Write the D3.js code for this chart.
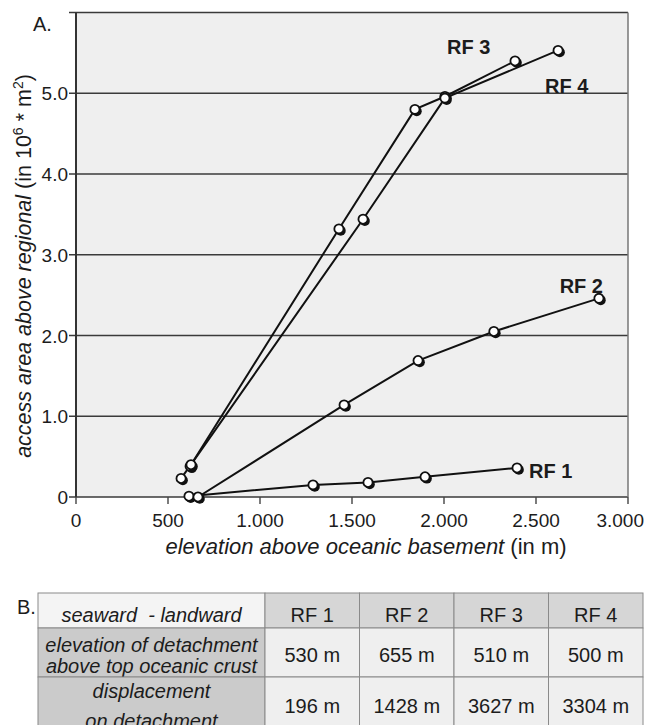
<!DOCTYPE html>
<html>
<head>
<meta charset="utf-8">
<script src="https://cdn.jsdelivr.net/npm/d3@7"></script>
<style>
  body { margin: 0; background: #fff; }
  text { font-family: "Liberation Sans", Arial, sans-serif; fill: #1c1c1c; }
</style>
</head>
<body>
<svg id="chart" width="645" height="725"></svg>
<script>
// axis ticks
var xTicks = [0, 500, 1000, 1500, 2000, 2500, 3000]
var xTickLabels = ["0", "500", "1.000", "1.500", "2.000", "2.500", "3.000"]
var yTicks = [0, 1, 2, 3, 4, 5, 6]
var yTickLabels = ["0", "1.0", "2.0", "3.0", "4.0", "5.0", ""]

// series: elevation above oceanic basement (m) / access area (10^6 m2)
var seriesNames = ["RF 1", "RF 2", "RF 3", "RF 4"]
var rf1Elev = [614, 1288, 1587, 1897, 2397]
var rf1Area = [0.01, 0.15, 0.18, 0.25, 0.36]
var rf2Elev = [663, 1457, 1859, 2271, 2842]
var rf2Area = [0.0, 1.14, 1.69, 2.05, 2.46]
var rf3Elev = [620, 1429, 1842, 2005, 2386]
var rf3Area = [0.38, 3.32, 4.80, 4.96, 5.40]
var rf4Elev = [571, 625, 1560, 2005, 2620]
var rf4Area = [0.23, 0.40, 3.44, 4.94, 5.53]

// table B
var tableHeader = ["seaward  - landward", "RF 1", "RF 2", "RF 3", "RF 4"]
var rowLabels = [["elevation of detachment", "above top oceanic crust"], ["displacement", "on detachment"]]
var detachElev = ["530 m", "655 m", "510 m", "500 m"]
var displacement = ["196 m", "1428 m", "3627 m", "3304 m"]

var main = function() {

    var svg = d3.select("#chart")

    var x = d3.scaleLinear().domain([0, 3000]).range([76, 628])
    var y = d3.scaleLinear().domain([0, 6]).range([497, 12.5])

    // plot background
    svg.append("rect")
        .attr("x", x(0)).attr("y", y(6))
        .attr("width", x(3000) - x(0)).attr("height", y(0) - y(6))
        .attr("fill", "#efefef")

    // horizontal grid lines (also the y ticks)
    svg.append("g").selectAll("line")
        .data(yTicks)
      .enter().append("line")
        .attr("x1", x(0) - 7).attr("x2", x(3000))
        .attr("y1", function(d) { return y(d) })
        .attr("y2", function(d) { return y(d) })
        .attr("stroke", "#3a3a3a")
        .attr("stroke-width", 1.7)

    // right border
    svg.append("line")
        .attr("x1", x(3000)).attr("x2", x(3000))
        .attr("y1", y(6)).attr("y2", y(0))
        .attr("stroke", "#777").attr("stroke-width", 1.5)

    // left axis
    svg.append("line")
        .attr("x1", x(0)).attr("x2", x(0))
        .attr("y1", y(6)).attr("y2", y(0))
        .attr("stroke", "#333").attr("stroke-width", 2)

    // x ticks
    svg.append("g").selectAll("line")
        .data(xTicks)
      .enter().append("line")
        .attr("x1", function(d) { return x(d) })
        .attr("x2", function(d) { return x(d) })
        .attr("y1", y(0)).attr("y2", y(0) + 7)
        .attr("stroke", "#444").attr("stroke-width", 1.4)

    svg.append("g").selectAll("text")
        .data(xTicks)
      .enter().append("text")
        .attr("x", function(d, i) { return i == xTicks.length - 1 ? 644 : x(d) })
        .attr("y", y(0) + 30)
        .attr("text-anchor", function(d, i) { return i == xTicks.length - 1 ? "end" : "middle" })
        .style("font-size", "19px")
        .text(function(d, i) { return xTickLabels[i] })

    svg.append("g").selectAll("text")
        .data(yTicks)
      .enter().append("text")
        .attr("x", x(0) - 8)
        .attr("y", function(d) { return y(d) + 7 })
        .attr("text-anchor", "end")
        .style("font-size", "19px")
        .text(function(d, i) { return yTickLabels[i] })

    // axis titles
    var xt = svg.append("text")
        .attr("x", 366).attr("y", 554)
        .attr("text-anchor", "middle")
        .style("font-size", "22px")
    xt.append("tspan").style("font-style", "italic").text("elevation above oceanic basement")
    xt.append("tspan").text(" (in m)")

    var yt = svg.append("text")
        .attr("transform", "translate(31,266) rotate(-90)")
        .attr("text-anchor", "middle")
        .style("font-size", "21.5px")
    yt.append("tspan").style("font-style", "italic").text("access area above regional")
    yt.append("tspan").text(" (in 10")
    yt.append("tspan").attr("dy", -8).style("font-size", "14px").text("6")
    yt.append("tspan").attr("dy", 8).text(" * m")
    yt.append("tspan").attr("dy", -8).style("font-size", "14px").text("2")
    yt.append("tspan").attr("dy", 8).text(")")

    svg.append("text").attr("x", 33).attr("y", 31)
        .style("font-size", "20px").text("A.")

    // series lines and markers
    var series = [
        { name: seriesNames[0], xs: rf1Elev, ys: rf1Area },
        { name: seriesNames[1], xs: rf2Elev, ys: rf2Area },
        { name: seriesNames[2], xs: rf3Elev, ys: rf3Area },
        { name: seriesNames[3], xs: rf4Elev, ys: rf4Area }
    ]

    var line = d3.line()
        .x(function(d) { return x(d[0]) })
        .y(function(d) { return y(d[1]) })

    series.forEach(function(s) {
        s.pts = s.xs.map(function(v, i) { return [v, s.ys[i]] })
    })

    svg.append("g").selectAll("path")
        .data(series)
      .enter().append("path")
        .attr("d", function(s) { return line(s.pts) })
        .attr("fill", "none")
        .attr("stroke", "#111")
        .attr("stroke-width", 2)

    var allPts = []
    series.forEach(function(s) { allPts = allPts.concat(s.pts) })

    var marks = svg.append("g").selectAll("g")
        .data(allPts)
      .enter().append("g")
        .attr("transform", function(d) {
            return "translate(" + x(d[0]) + "," + y(d[1]) + ")"
        })
    marks.append("circle")
        .attr("cx", 1.8).attr("cy", 1.8).attr("r", 5)
        .attr("fill", "#111")
    marks.append("circle")
        .attr("r", 4.6)
        .attr("fill", "#fff")
        .attr("stroke", "#111")
        .attr("stroke-width", 1.8)

    // series labels (placed in data units)
    var labelPos = [
        { x: 2462, y: 0.235, anchor: "start" },
        { x: 2864, y: 2.53, anchor: "end" },
        { x: 2016, y: 5.49, anchor: "start" },
        { x: 2549, y: 5.0, anchor: "start" }
    ]
    svg.append("g").selectAll("text")
        .data(series)
      .enter().append("text")
        .attr("x", function(s, i) { return x(labelPos[i].x) })
        .attr("y", function(s, i) { return y(labelPos[i].y) })
        .attr("text-anchor", function(s, i) { return labelPos[i].anchor })
        .style("font-size", "20px")
        .style("font-weight", "bold")
        .text(function(s) { return s.name })

    // ---- table B ----
    svg.append("text").attr("x", 17).attr("y", 614)
        .style("font-size", "20px").text("B.")

    var firstCol = [38, 265]
    var col = d3.scaleBand().domain(d3.range(4)).range([265, 643])
    var rowTop = [593, 628, 677]
    var rowH = [35, 49, 60]

    var cells = []
    tableHeader.forEach(function(t, i) {
        cells.push({ r: 0, c: i, lines: [t], italic: i == 0,
                     fill: i == 0 ? "#f4f4f4" : "#d6d6d6" })
    })
    rowLabels.forEach(function(l, r) {
        cells.push({ r: r + 1, c: 0, lines: l, italic: true, fill: "#cbcbcb" })
    })
    detachElev.forEach(function(t, i) {
        cells.push({ r: 1, c: i + 1, lines: [t], italic: false, fill: "#efefef" })
    })
    displacement.forEach(function(t, i) {
        cells.push({ r: 2, c: i + 1, lines: [t], italic: false, fill: "#efefef" })
    })

    function cx0(c) { return c == 0 ? firstCol[0] : col(c - 1) }
    function cw(c) { return c == 0 ? firstCol[1] - firstCol[0] : col.bandwidth() }

    var cg = svg.append("g").selectAll("g")
        .data(cells)
      .enter().append("g")

    cg.append("rect")
        .attr("x", function(d) { return cx0(d.c) })
        .attr("y", function(d) { return rowTop[d.r] })
        .attr("width", function(d) { return cw(d.c) })
        .attr("height", function(d) { return rowH[d.r] })
        .attr("fill", function(d) { return d.fill })
        .attr("stroke", "#8a8a8a")
        .attr("stroke-width", 1)

    var lineBase = [[622], [652, 673], [698, 728]]
    var valueBase = [622, 662, 713]

    cg.each(function(d) {
        var g = d3.select(this)
        d.lines.forEach(function(t, k) {
            g.append("text")
                .attr("x", cx0(d.c) + cw(d.c) / 2)
                .attr("y", d.c == 0 ? lineBase[d.r][k] : valueBase[d.r])
                .attr("text-anchor", "middle")
                .style("font-size", "20px")
                .style("font-style", d.italic ? "italic" : "normal")
                .style("white-space", "pre")
                .text(t)
        })
    })
}

main()
</script>
</body>
</html>
